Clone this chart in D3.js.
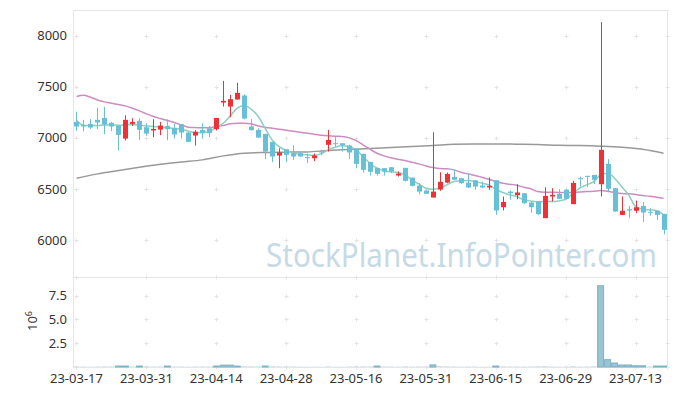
<!doctype html>
<html>
    <head>
        <meta charset="utf-8">
        <script src="https://cdn.jsdelivr.net/npm/d3@7/dist/d3.min.js"></script>
        <style>
            html, body {
                margin: 0;
                padding: 0;
                background: #fff;
            }
            #viz svg {
                display: block;
                font-family: "Noto Sans", "DejaVu Sans", sans-serif;
            }
        </style>
    </head>
    <body>
        <div id="viz"></div>
        <script>
            // trading days (yy-mm-dd)
            var dates = [
                "23-03-17",
                "23-03-20", "23-03-21", "23-03-22", "23-03-23", "23-03-24",
                "23-03-27", "23-03-28", "23-03-29", "23-03-30", "23-03-31",
                "23-04-03", "23-04-04", "23-04-05", "23-04-06", "23-04-07",
                "23-04-10", "23-04-11", "23-04-12", "23-04-13", "23-04-14",
                "23-04-17", "23-04-18", "23-04-19", "23-04-20", "23-04-21",
                "23-04-24", "23-04-25", "23-04-26", "23-04-27", "23-04-28",
                "23-05-02", "23-05-03", "23-05-04",
                "23-05-08", "23-05-09", "23-05-10", "23-05-11", "23-05-12",
                "23-05-15", "23-05-16", "23-05-17", "23-05-18", "23-05-19",
                "23-05-22", "23-05-23", "23-05-24", "23-05-25", "23-05-26",
                "23-05-30", "23-05-31", "23-06-01", "23-06-02",
                "23-06-05", "23-06-07", "23-06-08", "23-06-09",
                "23-06-12", "23-06-13", "23-06-14", "23-06-15", "23-06-16",
                "23-06-19", "23-06-20", "23-06-21", "23-06-22", "23-06-23",
                "23-06-26", "23-06-27", "23-06-28", "23-06-29", "23-06-30",
                "23-07-03", "23-07-04", "23-07-05", "23-07-06", "23-07-07",
                "23-07-10", "23-07-11", "23-07-12", "23-07-13", "23-07-14",
                "23-07-17", "23-07-18", "23-07-19"
            ];

            var open = [
                7156, 7124, 7137, 7176, 7195, 7147, 7117, 6993, 7137, 7166,
                7104, 7072, 7081, 7117, 7098, 7134, 7052, 7023, 7078, 7094,
                7085, 7345, 7306, 7375, 7414, 7111, 7078, 7039, 6961, 6827,
                6889, 6850, 6850, 6811, 6801, 6870, 6932, 6948, 6948, 6925,
                6896, 6844, 6765, 6707, 6704, 6713, 6632, 6707, 6612, 6534,
                6485, 6417, 6495, 6563, 6619, 6606, 6563, 6586, 6534, 6515,
                6586, 6322, 6475, 6440, 6459, 6368, 6381, 6215, 6427, 6453,
                6492, 6352, 6606, 6629, 6638, 6547, 6746, 6508, 6247, 6303,
                6287, 6335, 6277, 6287, 6257
            ];
            var high = [
                7257, 7176, 7182, 7296, 7303, 7156, 7120, 7221, 7192, 7192,
                7143, 7182, 7156, 7182, 7137, 7137, 7055, 7075, 7143, 7117,
                7195, 7557, 7420, 7538, 7427, 7182, 7094, 7039, 6961, 6899,
                6889, 6928, 6860, 6847, 6847, 6883, 7078, 7013, 6948, 6932,
                6896, 6844, 6765, 6707, 6704, 6713, 6671, 6707, 6612, 6557,
                6492, 7055, 6664, 6661, 6687, 6606, 6648, 6586, 6573, 6612,
                6586, 6426, 6485, 6547, 6459, 6378, 6381, 6518, 6508, 6498,
                6498, 6580, 6622, 6629, 6638, 8131, 6792, 6508, 6427, 6335,
                6387, 6374, 6313, 6287, 6257
            ];
            var low = [
                7068, 7062, 7088, 7085, 7036, 7065, 6876, 6974, 7117, 6980,
                7020, 7007, 7026, 6977, 6993, 6993, 6958, 6925, 6993, 7007,
                7072, 7306, 7202, 7375, 7182, 7072, 7000, 6791, 6762, 6704,
                6762, 6785, 6818, 6752, 6772, 6831, 6866, 6915, 6866, 6791,
                6704, 6661, 6632, 6632, 6632, 6655, 6622, 6573, 6524, 6449,
                6453, 6417, 6482, 6557, 6590, 6550, 6508, 6492, 6508, 6492,
                6247, 6290, 6394, 6400, 6355, 6270, 6247, 6215, 6378, 6404,
                6404, 6352, 6524, 6518, 6550, 6427, 6469, 6277, 6247, 6215,
                6264, 6176, 6238, 6199, 6059
            ];
            var close = [
                7111, 7111, 7101, 7150, 7130, 7111, 7029, 7176, 7156, 7078,
                7042, 7088, 7120, 7085, 7033, 7052, 6961, 7059, 7046, 7046,
                7195, 7362, 7378, 7440, 7189, 7075, 7003, 6866, 6818, 6857,
                6834, 6818, 6818, 6801, 6827, 6857, 6980, 6941, 6928, 6857,
                6746, 6687, 6668, 6648, 6671, 6671, 6651, 6580, 6531, 6475,
                6453, 6475, 6570, 6648, 6590, 6557, 6515, 6524, 6515, 6531,
                6290, 6374, 6459, 6466, 6361, 6322, 6254, 6433, 6443, 6404,
                6404, 6560, 6599, 6619, 6590, 6883, 6502, 6280, 6287, 6290,
                6322, 6270, 6270, 6247, 6101
            ];

            // volume, millions of shares
            var volume = [
                0.03, 0.03, 0.02, 0.03, 0.04, 0.04, 0.10, 0.10, 0.04, 0.10,
                0.04, 0.03, 0.03, 0.10, 0.03, 0.03, 0.02, 0.03, 0.03, 0.03,
                0.10, 0.20, 0.20, 0.10, 0.05, 0.04, 0.04, 0.10, 0.05, 0.04,
                0.03, 0.03, 0.02, 0.02, 0.02, 0.02, 0.04, 0.02, 0.02, 0.03,
                0.04, 0.04, 0.04, 0.10, 0.03, 0.03, 0.02, 0.04, 0.03, 0.03,
                0.03, 0.22, 0.05, 0.04, 0.03, 0.02, 0.03, 0.03, 0.02, 0.02,
                0.10, 0.04, 0.03, 0.03, 0.03, 0.03, 0.04, 0.05, 0.03, 0.02,
                0.02, 0.05, 0.03, 0.03, 0.04, 8.55, 0.77, 0.42, 0.21, 0.21,
                0.13, 0.13, 0.04, 0.10, 0.10
            ];

            // short moving average (teal), one per day
            var maShort = [
                7169, 7124, 7121, 7121, 7127, 7127, 7124, 7127, 7130, 7124,
                7117, 7111, 7108, 7098, 7091, 7085, 7065, 7052, 7052, 7062,
                7104, 7143, 7215, 7290, 7313, 7280, 7209, 7094, 6980, 6915,
                6876, 6850, 6840, 6834, 6830, 6844, 6883, 6909, 6922, 6915,
                6883, 6818, 6752, 6704, 6677, 6668, 6661, 6638, 6589, 6550,
                6508, 6498, 6508, 6541, 6573, 6580, 6583, 6573, 6557, 6541,
                6498, 6466, 6443, 6427, 6394, 6384, 6374, 6378, 6378, 6384,
                6400, 6453, 6508, 6541, 6573, 6638, 6655, 6606, 6524, 6443,
                6329, 6303, 6296, 6290, 6247
            ];
            // medium moving average (pink), one per day
            var maMid = [
                7404, 7417, 7397, 7371, 7352, 7339, 7326, 7313, 7290, 7264,
                7235, 7209, 7189, 7169, 7150, 7127, 7104, 7101, 7098, 7098,
                7111, 7121, 7137, 7143, 7143, 7137, 7117, 7104, 7094, 7085,
                7075, 7065, 7055, 7046, 7036, 7026, 7020, 7016, 7013, 7000,
                6974, 6932, 6889, 6850, 6824, 6805, 6791, 6778, 6762, 6746,
                6726, 6710, 6700, 6698, 6687, 6664, 6648, 6632, 6616, 6596,
                6573, 6557, 6547, 6537, 6518, 6502, 6475, 6469, 6469, 6466,
                6466, 6466, 6472, 6475, 6479, 6485, 6479, 6466, 6456, 6453,
                6446, 6436, 6430, 6420, 6410
            ];
            // long moving average (gray), read every 3rd day
            var maLongStep = 3;
            var maLong = [
                6606, 6648, 6681, 6713, 6743, 6765, 6785, 6824, 6850, 6857,
                6860, 6863, 6876, 6886, 6896, 6906, 6915, 6925, 6938, 6941,
                6941, 6938, 6935, 6928, 6925, 6919, 6909, 6889, 6850
            ];

            var priceTicks = [6000, 6500, 7000, 7500, 8000];
            var volumeTicks = [2.5, 5.0, 7.5];
            var dateTickEvery = 10;

            var renderChart = function () {
                var w = 677, h = 396;
                var left = 73, right = 667;
                var top = 10, split = 277, bottom = 367;

                var up = "#ee3136", down = "#68c0d6";

                var svg = d3.select("#viz").append("svg")
                    .attr("width", w)
                    .attr("height", h);

                var x = d3.scaleBand()
                    .domain(d3.range(dates.length))
                    .range([left, right])
                    .padding(0);
                var cx = function (i) { return x(i) + x.bandwidth() / 2; };

                var y = d3.scaleLinear().domain([5640, 8250]).range([split, top]);
                var yv = d3.scaleLinear().domain([0, 9.47]).range([bottom, split]);

                // watermark sits under the marks
                svg.append("text")
                    .attr("x", 266)
                    .attr("y", 267)
                    .attr("textLength", 391)
                    .attr("lengthAdjust", "spacingAndGlyphs")
                    .style("font-size", "32px")
                    .style("fill", "#c6dae5")
                    .text("StockPlanet.InfoPointer.com");

                // panel frames
                svg.append("rect")
                    .attr("x", left + 0.5).attr("y", top + 0.5)
                    .attr("width", right - left).attr("height", split - top)
                    .attr("fill", "none").attr("stroke", "#e6e6e6");
                svg.append("rect")
                    .attr("x", left + 0.5).attr("y", split + 0.5)
                    .attr("width", right - left).attr("height", bottom - split)
                    .attr("fill", "none").attr("stroke", "#e6e6e6");

                // grid crosses at tick intersections
                var xTickIdx = d3.range(0, dates.length, dateTickEvery);
                var crossX = xTickIdx.map(cx).concat([right]);
                var crosses = [];
                crossX.forEach(function (px) {
                    priceTicks.forEach(function (t) { crosses.push([px, y(t)]); });
                    volumeTicks.forEach(function (t) { crosses.push([px, yv(t)]); });
                    crosses.push([px, split]);
                    crosses.push([px, bottom]);
                });
                svg.append("g").selectAll("path")
                    .data(crosses)
                    .enter().append("path")
                        .attr("d", function (d) {
                            var a = Math.round(d[0]) + 0.5, b = Math.round(d[1]) + 0.5;
                            return "M" + (a - 2) + "," + b + "H" + (a + 2) +
                                "M" + a + "," + (b - 2) + "V" + (b + 2);
                        })
                        .attr("stroke", "#e3e3e3")
                        .attr("stroke-width", 1);

                // moving averages
                var line = d3.line().curve(d3.curveMonotoneX);
                var idx = d3.range(dates.length);
                svg.append("path")
                    .attr("d", line(maLong.map(function (v, k) { return [cx(k * maLongStep), y(v)]; })))
                    .attr("fill", "none").attr("stroke", "#999999").attr("stroke-width", 1.5);
                svg.append("path")
                    .attr("d", line(idx.map(function (i) { return [cx(i), y(maMid[i])]; })))
                    .attr("fill", "none").attr("stroke", "#cc8cc0").attr("stroke-width", 1.5);
                svg.append("path")
                    .attr("d", line(idx.map(function (i) { return [cx(i), y(maShort[i])]; })))
                    .attr("fill", "none").attr("stroke", "#8ccfc0").attr("stroke-width", 1.5);

                // candles
                var bodyW = 5;
                var candles = svg.append("g").selectAll("g")
                    .data(idx)
                    .enter().append("g")
                        .attr("fill", function (i) { return close[i] > open[i] ? up : down; })
                        .attr("stroke", function (i) { return close[i] > open[i] ? up : down; });
                candles.append("line")
                    .attr("x1", function (i) { return Math.round(cx(i)) + 0.5; })
                    .attr("x2", function (i) { return Math.round(cx(i)) + 0.5; })
                    .attr("y1", function (i) { return y(high[i]); })
                    .attr("y2", function (i) { return y(low[i]); })
                    .attr("stroke-width", 1);
                candles.append("rect")
                    .attr("x", function (i) { return Math.round(cx(i)) + 0.5 - bodyW / 2; })
                    .attr("y", function (i) { return y(Math.max(open[i], close[i])); })
                    .attr("width", bodyW)
                    .attr("height", function (i) {
                        return Math.max(1, Math.abs(y(open[i]) - y(close[i])));
                    })
                    .attr("stroke", "none");

                // volume bars
                svg.append("g").selectAll("rect")
                    .data(idx)
                    .enter().append("rect")
                        .attr("x", function (i) { return x(i) + 0.5; })
                        .attr("y", function (i) { return yv(volume[i]); })
                        .attr("width", x.bandwidth() - 1)
                        .attr("height", function (i) { return bottom - yv(volume[i]); })
                        .attr("fill", "#9ac4d4")
                        .attr("stroke", function (i) {
                            return bottom - yv(volume[i]) > 0.7 ? "#7fb1c6" : "none";
                        })
                        .attr("stroke-width", 1);

                // axes labels
                var labelStyle = function (sel) {
                    sel.style("font-size", "13px").style("fill", "#333333");
                };
                svg.append("g").selectAll("text")
                    .data(priceTicks)
                    .enter().append("text")
                        .attr("x", 67)
                        .attr("y", function (d) { return y(d) + 4.5; })
                        .attr("text-anchor", "end")
                        .text(function (d) { return d; })
                        .call(labelStyle);
                svg.append("g").selectAll("text")
                    .data(volumeTicks)
                    .enter().append("text")
                        .attr("x", 67)
                        .attr("y", function (d) { return yv(d) + 4.5; })
                        .attr("text-anchor", "end")
                        .text(d3.format(".1f"))
                        .call(labelStyle);
                svg.append("g").selectAll("text")
                    .data(xTickIdx)
                    .enter().append("text")
                        .attr("x", function (i) { return cx(i); })
                        .attr("y", 383)
                        .attr("text-anchor", "middle")
                        .text(function (i) { return dates[i]; })
                        .call(labelStyle);

                var unit = svg.append("text")
                    .attr("transform", "translate(37,321) rotate(-90)")
                    .attr("text-anchor", "middle")
                    .call(labelStyle);
                unit.append("tspan").text("10");
                unit.append("tspan").attr("dy", -5).style("font-size", "9px").text("6");
            };

            renderChart();
        </script>
    </body>
</html>
